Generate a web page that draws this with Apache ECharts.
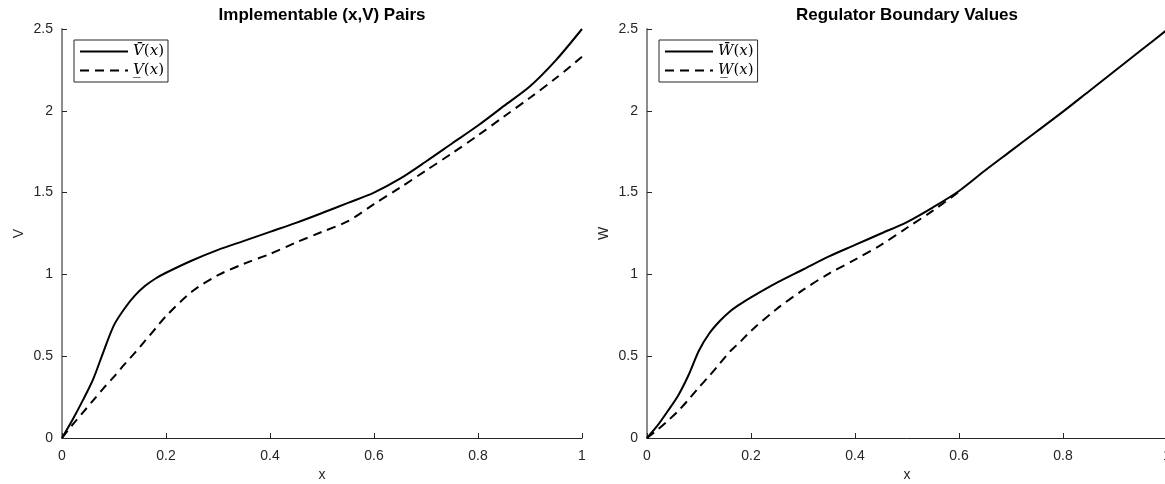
<!DOCTYPE html>
<html>
<head>
<meta charset="utf-8">
<script src="https://cdn.jsdelivr.net/npm/echarts@6/dist/echarts.min.js"></script>
<style>
  html, body { margin: 0; padding: 0; background: #fff; }
  #chart { width: 1165px; height: 484px; }
</style>
</head>
<body>
<div id="chart"></div>
<script>
// x positions shared by the curves
const xGrid = [0, 0.02, 0.04, 0.06, 0.08, 0.1, 0.12, 0.14, 0.16, 0.18, 0.2,
  0.25, 0.3, 0.35, 0.4, 0.45, 0.5, 0.55, 0.6, 0.65, 0.7, 0.75, 0.8, 0.85, 0.9, 0.95, 1];

// left panel: implementable (x,V) pairs
const vUpper = [0, 0.11, 0.23, 0.36, 0.53, 0.69, 0.79, 0.87, 0.93, 0.975, 1.01,
  1.085, 1.15, 1.205, 1.26, 1.315, 1.375, 1.437, 1.50, 1.585, 1.69, 1.80, 1.91, 2.03, 2.15, 2.31, 2.50];
const vLower = [0, 0.08, 0.155, 0.23, 0.305, 0.375, 0.45, 0.52, 0.595, 0.67, 0.745,
  0.895, 0.995, 1.065, 1.125, 1.195, 1.26, 1.325, 1.43, 1.53, 1.635, 1.74, 1.85, 1.965, 2.08, 2.20, 2.33];

// right panel: regulator boundary values (lower curve stops where it meets the upper one)
const wUpper = [0, 0.075, 0.165, 0.26, 0.385, 0.535, 0.64, 0.715, 0.775, 0.82, 0.86,
  0.95, 1.03, 1.11, 1.18, 1.25, 1.32, 1.41, 1.51, 1.635, 1.755, 1.875, 1.995, 2.12, 2.245, 2.37, 2.495];
const wLower = [0, 0.05, 0.105, 0.165, 0.235, 0.31, 0.38, 0.455, 0.53, 0.59, 0.655,
  0.79, 0.905, 1.005, 1.09, 1.18, 1.285, 1.39, 1.505];

const xTicks = { min: 0, max: 1, interval: 0.2 };
const yTicks = { min: 0, max: 2.5, interval: 0.5 };

const titles = ['Implementable (x,V) Pairs', 'Regulator Boundary Values'];
const legendText = {
  Vbar: '{i|V\u0304}{n|(}{i|x}{n|)}',
  Vlow: '{i|V\u0332}{n|(}{i|x}{n|)}',
  Wbar: '{i|W\u0304}{n|(}{i|x}{n|)}',
  Wlow: '{i|W\u0332}{n|(}{i|x}{n|)}'
};

function pairs(xs, ys) {
  return ys.map((y, i) => [xs[i], y]);
}

const axisColor = '#262626';
const labelFont = { fontFamily: 'Liberation Sans', fontSize: 14, color: axisColor };

function xAxisOpt(grid) {
  return {
    type: 'value', gridIndex: grid,
    min: xTicks.min, max: xTicks.max, interval: xTicks.interval,
    name: 'x', nameLocation: 'middle', nameGap: 30,
    nameTextStyle: labelFont,
    axisLine: { lineStyle: { color: axisColor, width: 1 } },
    axisTick: { inside: true, length: 5, lineStyle: { color: axisColor } },
    axisLabel: Object.assign({ margin: 11 }, labelFont),
    splitLine: { show: false }
  };
}

function yAxisOpt(grid, name) {
  return {
    type: 'value', gridIndex: grid,
    min: yTicks.min, max: yTicks.max, interval: yTicks.interval,
    name: name, nameLocation: 'middle', nameGap: 36,
    nameTextStyle: labelFont,
    axisLine: { lineStyle: { color: '#8c8c8c', width: 2 } },
    axisTick: { inside: true, length: 5, lineStyle: { color: axisColor } },
    axisLabel: Object.assign({ margin: 9 }, labelFont),
    splitLine: { show: false }
  };
}

function lineSeries(name, grid, data, dashed) {
  return {
    name: name, type: 'line', xAxisIndex: grid, yAxisIndex: grid,
    data: data, symbol: 'none', smooth: 0.3, animation: false,
    lineStyle: { color: '#000', width: 2, type: dashed ? [9, 6] : 'solid' },
    itemStyle: { color: '#000' }
  };
}

function legendOpt(left, names) {
  return {
    data: names, left: left, top: 40, orient: 'vertical',
    itemWidth: 48, itemHeight: 14, itemGap: 4,
    padding: [4, 4, 4, 5],
    borderColor: axisColor, borderWidth: 1, backgroundColor: '#fff',
    itemStyle: { opacity: 0 },
    formatter: n => legendText[n],
    textStyle: {
      rich: {
        i: { fontFamily: 'DejaVu Serif', fontStyle: 'italic', fontSize: 15, color: '#000' },
        n: { fontFamily: 'DejaVu Serif', fontSize: 15, color: '#000' }
      }
    }
  };
}

const titleFont = { fontFamily: 'Liberation Sans', fontWeight: 'bold', fontSize: 17, color: '#000' };

const chart = echarts.init(document.getElementById('chart'));
chart.setOption({
  animation: false,
  title: [
    { text: titles[0], left: 322, top: 7, textAlign: 'center', padding: 0, textStyle: titleFont },
    { text: titles[1], left: 907, top: 7, textAlign: 'center', padding: 0, textStyle: titleFont }
  ],
  grid: [
    { left: 62, right: 583, top: 29, bottom: 46, outerBoundsMode: 'none' },
    { left: 647, right: -2, top: 29, bottom: 46, outerBoundsMode: 'none' }
  ],
  legend: [
    legendOpt(74, ['Vbar', 'Vlow']),
    legendOpt(659, ['Wbar', 'Wlow'])
  ],
  xAxis: [xAxisOpt(0), xAxisOpt(1)],
  yAxis: [yAxisOpt(0, 'V'), yAxisOpt(1, 'W')],
  series: [
    lineSeries('Vbar', 0, pairs(xGrid, vUpper), false),
    lineSeries('Vlow', 0, pairs(xGrid, vLower), true),
    lineSeries('Wbar', 1, pairs(xGrid, wUpper), false),
    lineSeries('Wlow', 1, pairs(xGrid, wLower), true)
  ]
});
</script>
</body>
</html>
